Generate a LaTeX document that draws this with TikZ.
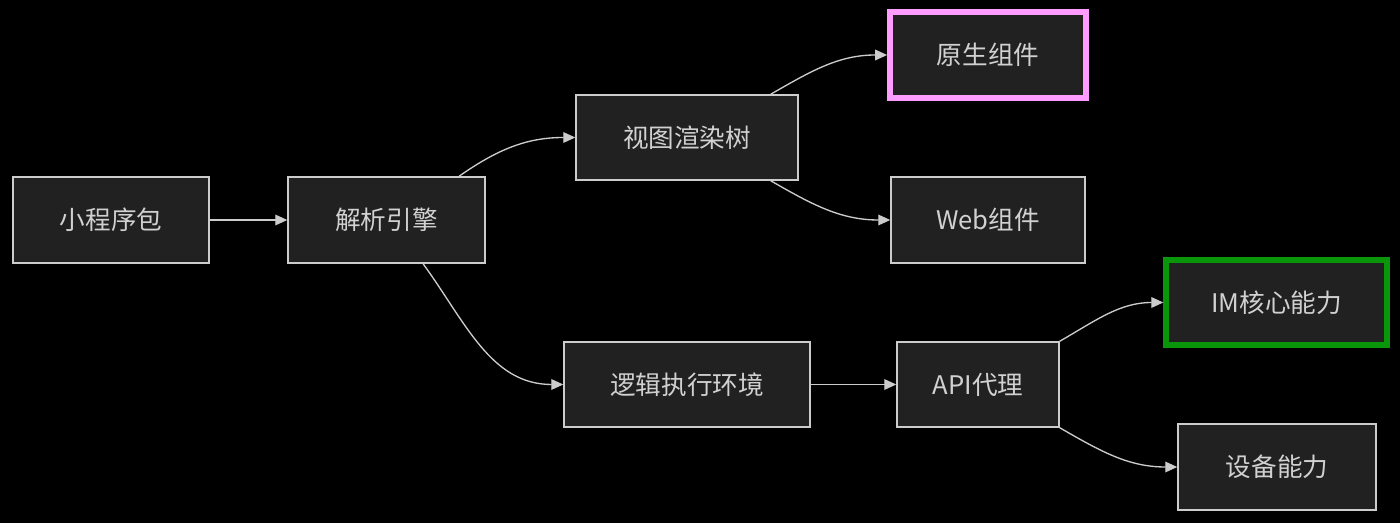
\documentclass[tikz,border=0pt]{standalone}
\usepackage{fontspec}
\setmainfont{Noto Sans CJK SC}
\usetikzlibrary{arrows.meta}
\definecolor{boxfill}{HTML}{212121}
\definecolor{boxline}{HTML}{CCCCCC}
\definecolor{pinkline}{HTML}{FF9CFF}
\definecolor{greenline}{HTML}{0A960A}
\tikzset{
  box/.style={draw=boxline, fill=boxfill, line width=1.1pt, inner sep=0pt,
    text=boxline!90!white, font=\fontsize{19.2}{22}\selectfont,
    minimum height=64.5pt},
  flow/.style={draw=boxline, line width=1pt, -{Triangle[length=9pt,width=8pt]}}
}
\begin{document}
\begin{tikzpicture}[x=0.75pt, y=-0.75pt]
			%%%%% START %%%%%
			
			\fill[black] (0, 0) rectangle (1400, 523);
			\useasboundingbox (0, 0) rectangle (1400, 523);
			
			\node[box, minimum width=147pt] (pkg) at (111, 220) {小程序包};
			\node[box, minimum width=147.75pt] (parse) at (386.5, 220) {解析引擎};
			
			\node[box, minimum width=166.5pt, minimum height=63.75pt] (view) at (687, 137.5) {视图渲染树};
			\node[box, minimum width=184.5pt, minimum height=63.75pt] (logic) at (687, 384.5) {逻辑执行环境};
			
			\node[box, draw=pinkline, line width=4.3pt, minimum width=147pt, minimum height=64pt] (native) at (988, 55) {原生组件};
			\node[box, minimum width=145.5pt] (web) at (988, 220) {Web组件};
			
			\node[box, minimum width=121.5pt, minimum height=63.75pt] (api) at (978, 384.5) {API代理};
			
			\node[box, draw=greenline, line width=4.3pt, minimum width=165.5pt, minimum height=64pt] (im) at (1276.5, 302.5) {IM核心能力};
			\node[box, minimum width=148.5pt] (device) at (1277, 467) {设备能力};
			
			\draw[flow] (pkg) -- (parse);
			\draw[flow] ([xshift=-20pt]parse.north east) to[out=35, in=180] (view.west);
			\draw[flow] ([xshift=-47pt]parse.south east) to[out=-54, in=180] (logic.west);
			
			\draw[flow] ([xshift=-21pt]view.north east) to[out=30, in=180] (native.west);
			\draw[flow] ([xshift=-21pt]view.south east) to[out=-30, in=180] (web.west);
			
			\draw[flow] (logic) -- (api);
			\draw[flow] (api.north east) to[out=30, in=180] (im.west);
			\draw[flow] (api.south east) to[out=-30, in=180] (device.west);
			
			%%%%% END %%%%%
		\end{tikzpicture}
\end{document}
